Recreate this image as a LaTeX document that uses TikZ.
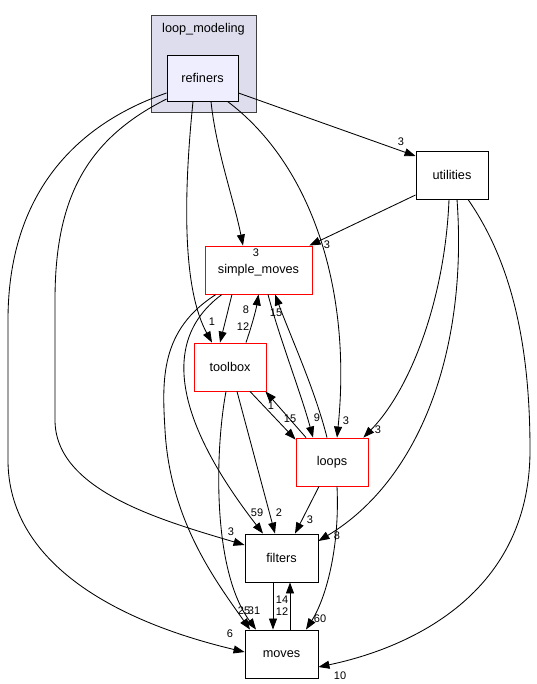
\documentclass[tikz,border=0pt]{standalone}
\usepackage{fontspec}
\setmainfont{Liberation Sans}
\usetikzlibrary{arrows.meta,calc}
\tikzset{
  dirbox/.style={draw=black,line width=0.9pt,fill=white,inner sep=0pt,minimum height=48pt,font=\fontsize{12.7}{14}\selectfont},
  redbox/.style={dirbox,draw=red},
  lab/.style={inner sep=0pt,font=\fontsize{11}{12}\selectfont},
  dep/.style={draw=black,line width=0.85pt,-{Triangle[length=11pt,width=8pt]}},
}
\begin{document}
\begin{tikzpicture}[x=1pt,y=-1pt]
\useasboundingbox (0,0) rectangle (536,684);
% cluster
\node[draw=black!75,line width=1pt,fill={rgb,255:red,221;green,221;blue,238},minimum width=105pt,minimum height=97pt,inner sep=0pt] (cluster) at (203.5,64.5) {};
\node[font=\fontsize{12.7}{14}\selectfont,inner sep=0pt] (clusterlabel) at (203.5,29) {loop\_modeling};
% nodes
\node[dirbox,fill={rgb,255:red,238;green,238;blue,255},minimum width=71pt,minimum height=46pt] (refiners) at (202.5,78) {refiners};
\node[dirbox,minimum width=72pt] (utilities) at (452,175) {utilities};
\node[redbox,minimum width=107pt] (simple) at (258.5,270) {simple\_moves};
\node[redbox,minimum width=72pt] (toolbox) at (230,367) {toolbox};
\node[redbox,minimum width=72pt] (loops) at (332,462) {loops};
\node[dirbox,minimum width=73pt] (filters) at (281.5,558) {filters};
\node[dirbox,minimum width=73pt] (moves) at (281.5,654) {moves};
% edges from refiners
\draw[dep] ($(refiners.east)+(0,15)$) -- ($(utilities.west)+(0,-19)$);
\node[lab] (l1) at (401,142) {3};
\draw[dep] ($(refiners.south)+(8.5,0)$) .. controls (216,150) and (234,200) .. ($(simple.north)+(-15.5,0)$);
\node[lab] (l2) at (256,253) {3};
\draw[dep] ($(refiners.south)+(-9.5,0)$) .. controls (183,200) and (183,290) .. ($(toolbox.north)+(-18,0)$);
\node[lab] (l3) at (212,322) {1};
\draw[dep] ($(refiners.south)+(25,0)$) .. controls (312,165) and (352,290) .. ($(loops.north)+(5,0)$);
\node[lab] (l4) at (346,421) {3};
\draw[dep] ($(refiners.west)+(0,21)$) .. controls (85,140) and (55,200) .. (55,300) -- (55,420) .. controls (55,490) and (160,520) .. ($(filters.west)+(0,-13)$);
\node[lab] (l5) at (231,532) {3};
\draw[dep] ($(refiners.west)+(0,15)$) .. controls (60,130) and (8,210) .. (8,320) -- (8,460) .. controls (8,560) and (110,620) .. ($(moves.west)+(0,-2)$);
\node[lab] (l6) at (230,634) {6};
% edges from utilities
\draw[dep] ($(utilities.west)+(0,20)$) -- ($(simple.north east)+(-3,0)$);
\node[lab] (l7) at (327,245) {3};
\draw[dep] ($(utilities.south)+(-3,0)$) .. controls (445,300) and (410,390) .. ($(loops.north east)+(-5,0)$);
\node[lab] (l8) at (378,430) {3};
\draw[dep] ($(utilities.south)+(5,0)$) .. controls (468,350) and (420,480) .. ($(filters.east)+(0,-17)$);
\node[lab] (l9) at (337,536) {8};
\draw[dep] ($(utilities.south)+(16,0)$) .. controls (510,260) and (530,340) .. (530,450) .. controls (530,600) and (400,650) .. ($(moves.east)+(0,13)$);
\node[lab] (l10) at (340,676) {10};
% simple_moves <-> toolbox
\draw[dep] ($(simple.south)+(-26.5,0)$) -- ($(toolbox.north)+(-10,0)$);
\node[lab] (l11) at (243,327) {12};
\draw[dep] ($(toolbox.north)+(16,0)$) .. controls (252,325) and (256,310) .. ($(simple.south)+(0,0)$);
\node[lab] (l12) at (246,310) {8};
% simple_moves <-> loops
\draw[dep] ($(simple.south)+(9.5,0)$) .. controls (280,340) and (300,390) .. ($(loops.north)+(-19,0)$);
\node[lab] (l13) at (317,418) {9};
\draw[dep] ($(loops.north)+(-5,0)$) .. controls (315,390) and (292,340) .. ($(simple.south)+(16.5,0)$);
\node[lab] (l14) at (276,313) {15};
% toolbox <-> loops
\draw[dep] ($(toolbox.south)+(20,0)$) -- ($(loops.north west)+(0,2)$);
\node[lab] (l15) at (290,419) {15};
\draw[dep] ($(loops.north)+(-26,0)$) -- ($(toolbox.south east)+(-1,0)$);
\node[lab] (l16) at (271,406) {1};
% simple_moves -> filters, moves
\draw[dep] ($(simple.south)+(-36.5,0)$) .. controls (160,340) and (175,420) .. ($(filters.north)+(-18.5,0)$);
\node[lab] (l17) at (257,513) {59};
\draw[dep] ($(simple.south)+(-42.5,0)$) .. controls (160,330) and (162,380) .. (165,430) .. controls (170,520) and (215,580) .. ($(moves.north)+(-31.5,0)$);
\node[lab] (l18) at (244,611) {25};
% toolbox -> moves, filters
\draw[dep] ($(toolbox.south)+(-4,0)$) .. controls (215,450) and (212,570) .. ($(moves.north)+(-25.5,0)$);
\node[lab] (l19) at (254,611) {31};
\draw[dep] ($(toolbox.south)+(7,0)$) -- ($(filters.north)+(-6.5,0)$);
\node[lab] (l20) at (279,513) {2};
% loops -> filters, moves
\draw[dep] ($(loops.south)+(-13,0)$) -- ($(filters.north)+(13.5,0)$);
\node[lab] (l21) at (310,520) {3};
\draw[dep] ($(loops.south)+(5,0)$) .. controls (340,550) and (325,600) .. ($(moves.north)+(24.5,0)$);
\node[lab] (l22) at (320,619) {60};
% filters <-> moves
\draw[dep] ($(filters.south)+(-8.5,0)$) -- ($(moves.north)+(-8.5,0)$);
\node[lab] (l23) at (282,612) {12};
\draw[dep] ($(moves.north)+(8.5,0)$) -- ($(filters.south)+(8.5,0)$);
\node[lab] (l24) at (282,600) {14};
\end{tikzpicture}
\end{document}
